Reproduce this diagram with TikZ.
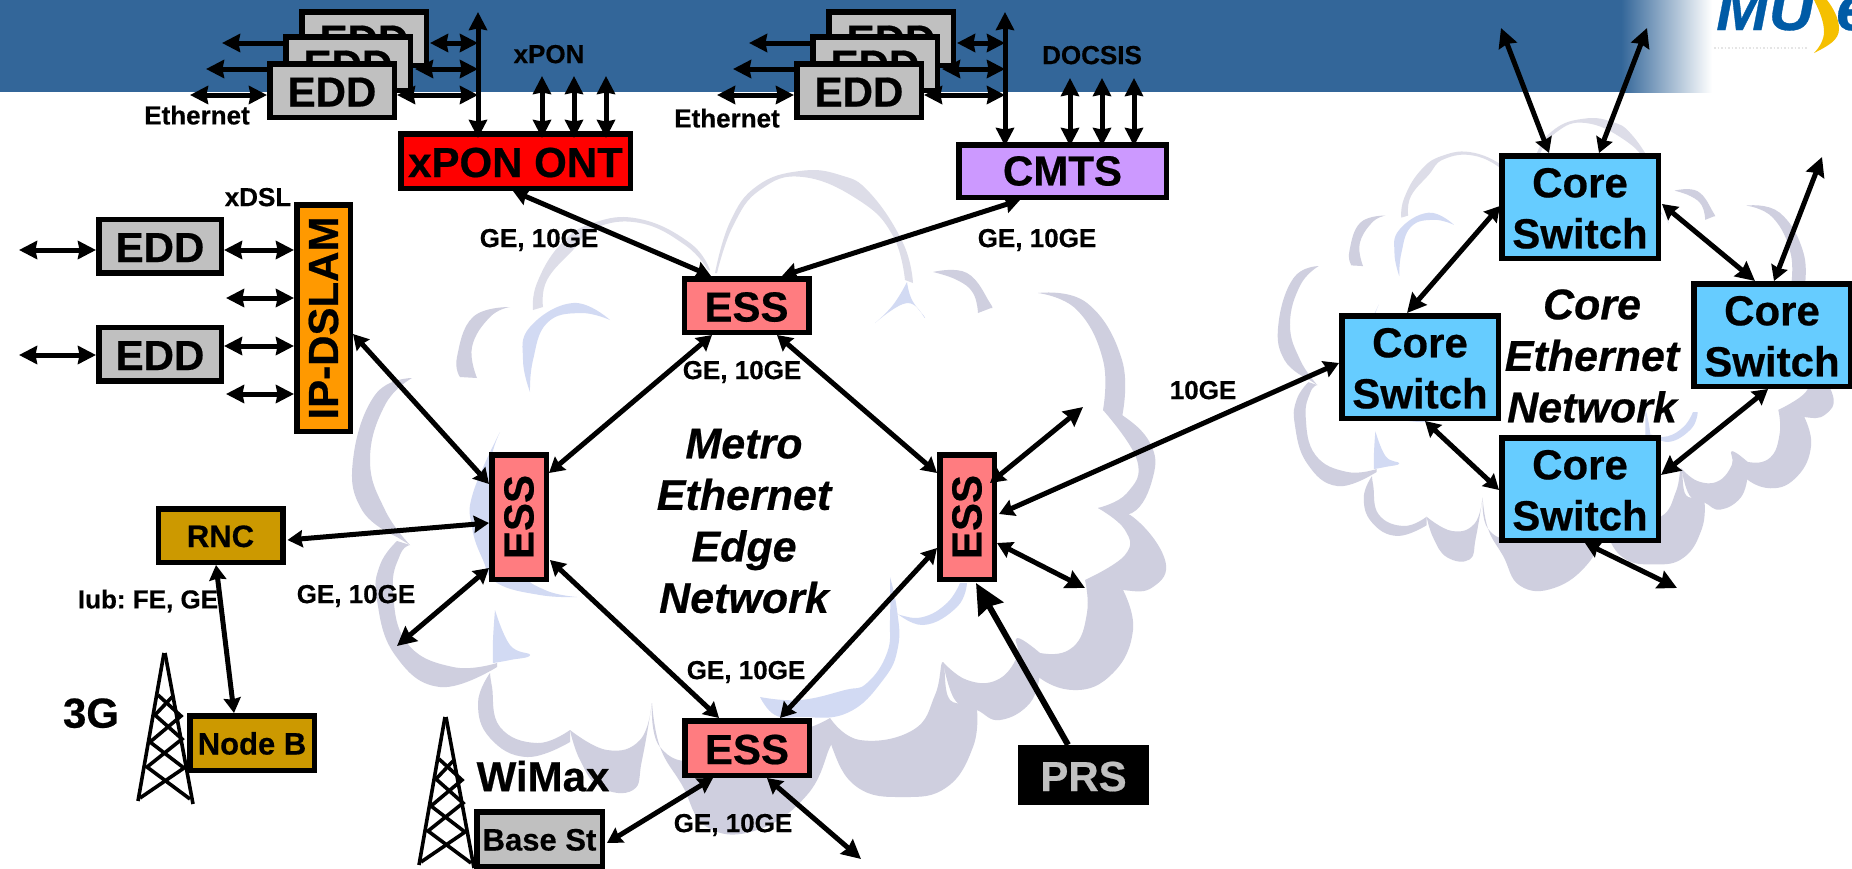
\documentclass[tikz,border=0pt]{standalone}
\usepackage{fontspec}
\setmainfont{Liberation Sans}[BoldFeatures={FakeBold=0.5},BoldItalicFeatures={FakeBold=0.5}]
\usetikzlibrary{arrows.meta}
\definecolor{banner}{HTML}{336699}
\definecolor{cg}{HTML}{CFCFDF}
\definecolor{cgl}{HTML}{DDDDE8}
\definecolor{cb}{HTML}{D2DAF3}
\definecolor{essc}{HTML}{FF7C80}
\definecolor{eddc}{HTML}{C0C0C0}
\definecolor{rncc}{HTML}{CC9900}
\definecolor{corec}{HTML}{66CCFF}
\definecolor{cmtsc}{HTML}{CC99FF}
\definecolor{ipc}{HTML}{FF9900}
\definecolor{logob}{HTML}{005BA6}
\definecolor{logoy}{HTML}{F5C000}
\newcommand{\cresc}[3]{\fill[#1] plot[smooth,tension=.75] coordinates {#2} -- plot[smooth,tension=.75] coordinates {#3} -- cycle;}
\newcommand{\cloudart}{%
\cresc{cg}{(412,378)(375,395)(353,460)(362,510)(397,537)}{(410,545)(385,510)(370,460)(385,405)(412,378)}
\cresc{cg}{(397,541)(380,565)(377,600)(395,655)(440,687)(497,667)}{(497,663)(453,667)(407,643)(393,590)(400,555)(410,545)}
\cresc{cg}{(490,673)(478,703)(490,738)(527,757)(570,742)}{(570,730)(537,743)(500,727)(492,687)(490,673)}
\cresc{cg}{(570,730)(580,760)(600,787)(633,790)(642,760)(652,703)}{(652,703)(640,740)(607,750)(570,730)}
\cresc{cg}{(652,703)(660,747)(682,785)(707,827)(757,830)(807,795)(830,747)(832,745)}{(830,718)(800,730)(760,730)(700,760)(660,747)(652,703)}
\cresc{cg}{(830,718)(832,747)(857,787)(903,797)(947,787)(973,747)(977,710)}{(977,700)(950,700)(943,662)(935,695)(913,730)(860,740)(830,718)}
\cresc{cg}{(943,662)(955,700)(977,710)(1000,720)(1030,703)(1040,673)}{(1040,653)(1017,638)(1017,657)(997,680)(967,680)(943,662)}
\cresc{cg}{(1017,638)(1030,670)(1073,690)(1113,673)(1133,630)(1123,590)}{(1085,580)(1087,613)(1073,647)(1040,653)(1017,638)}
\cresc{cg}{(1085,580)(1123,590)(1153,587)(1165,560)(1133,517)(1098,508)}{(1098,508)(1125,530)(1125,555)(1085,580)}
\cresc{cg}{(1098,508)(1132,513)(1153,477)(1150,443)(1122,415)(1103,410)}{(1103,410)(1137,460)(1127,493)(1098,508)}
\cresc{cg}{(1038,293)(1087,303)(1122,360)(1122,417)}{(1103,410)(1103,360)(1077,310)(1038,293)}
\cresc{cg}{(933,272)(967,273)(990,303)(991,308)}{(978,313)(973,293)(957,280)(933,272)}
\cresc{cb}{(875,323)(893,305)(907,282)}{(907,282)(912,300)(925,318)(907,303)(875,323)}
\cresc{cgl}{(715,273)(730,222)(757,186)(800,171)(840,175)(870,193)(903,243)(913,283)}{(905,280)(893,236)(860,201)(803,177)(760,190)(733,226)(717,273)}
\cresc{cgl}{(533,310)(537,283)(560,245)(593,223)(640,219)(690,243)(710,270)}{(708,270)(685,245)(640,223)(595,228)(573,250)(547,280)(543,307)}
\cresc{cg}{(510,307)(473,317)(457,357)(460,377)}{(477,378)(472,347)(490,317)(510,307)}
\cresc{cb}{(610,320)(573,303)(530,327)(523,360)(530,392)}{(530,392)(533,360)(547,323)(580,313)(610,320)}
\cresc{cb}{(500,432)(473,493)(472,527)(483,560)(497,583)(540,595)(577,597)}{(577,597)(545,590)(520,570)(500,520)(490,470)(500,432)}
\cresc{cb}{(495,610)(493,640)(493,663)}{(493,663)(510,660)(530,655)(510,645)(495,610)}
\cresc{cb}{(890,577)(897,610)(898,647)(883,680)(847,713)(800,717)(775,715)(760,697)}{(760,697)(800,700)(845,690)(867,683)(887,653)(890,620)(890,577)}
\cresc{cb}{(893,610)(923,625)(957,607)(967,583)}{(960,583)(947,603)(923,617)(900,615)(893,610)}
}
\newcommand{\towerart}{%
\draw[towerline] (164,653) -- (138,801);
\draw[towerline] (165,653) -- (193,804);
\draw[towerline] (158,695) -- (181,716) -- (150,742) -- (184,768) -- (140,798);
\draw[towerline] (172,697) -- (155,715) -- (182,739) -- (147,767) -- (190,799);
}
\newcommand{\corelabel}{\rule{0pt}{32pt}Core\\Switch}
\tikzset{
 towerline/.style={line width=3.6pt},
 box/.style={draw=black,line width=5.5pt,inner sep=0pt,align=center,font=\bfseries\fontsize{42}{51}\selectfont},
 small/.style={minimum width=124.5pt,minimum height=53.5pt,text height=32pt,text depth=0pt},
 tall/.style={minimum width=54.5pt,minimum height=124.5pt},
 corebox/.style={box,fill=corec,minimum width=156.5pt,minimum height=102.5pt},
 essbox/.style={box,fill=essc},
 eddbox/.style={box,small,fill=eddc},
 lab/.style={inner sep=0pt,text depth=0pt,font=\frenchspacing\bfseries\fontsize{26}{30}\selectfont},
 biglab/.style={inner sep=0pt,text depth=0pt,font=\bfseries\fontsize{42}{50}\selectfont},
 nettext/.style={inner sep=0pt,align=center,font=\bfseries\itshape\fontsize{43}{51.5}\selectfont},
 linkss/.style={line width=5pt,{Stealth[length=15pt,width=17pt,inset=1.5pt]}-{Stealth[length=15pt,width=17pt,inset=1.5pt]}},
 linksb/.style={line width=5pt,{Stealth[length=15pt,width=17pt,inset=1.5pt]}-{Stealth[length=19pt,width=19pt,inset=2pt]}},
 linkbb/.style={line width=5pt,{Stealth[length=18pt,width=18pt,inset=1.5pt]}-{Stealth[length=18pt,width=18pt,inset=1.5pt]}},
 stub/.style={line width=5pt,-{Stealth[length=18pt,width=18pt,inset=1.5pt]}},
 prslink/.style={line width=6pt,-{Stealth[length=30pt,width=28pt,inset=3pt]}},
}
\begin{document}
\begin{tikzpicture}[x=1pt,y=-1pt]
\useasboundingbox (0,0) rectangle (1852,868);
\clip (0,0) rectangle (1852,868);
\fill[white] (0,0) rectangle (1852,868);
% banner
\fill[banner] (0,0) rectangle (1622,92);
\shade[left color=banner,right color=white] (1621,0) rectangle (1712,92);
% logo
\node[anchor=base west,inner sep=0pt,text=logob,font=\bfseries\itshape\fontsize{63}{63}\selectfont] (logom) at (1716,30) {MU};
\node[anchor=base west,inner sep=0pt,text=logob,font=\bfseries\itshape\fontsize{63}{63}\selectfont] (logoe) at (1836,30) {e};
\fill[logoy] (1814,0) .. controls (1820,12) and (1824,22) .. (1824,32) .. controls (1824,40) and (1819,48) .. (1814,53) .. controls (1828,46) and (1839,40) .. (1839,29) .. controls (1839,18) and (1833,8) .. (1827,0) -- cycle;
\draw[line width=1.5pt,dotted,black!10] (1714,48) -- (1808,48);
% clouds
\cloudart
\begin{scope}[shift={(1277,118)},xscale=.683,yscale=.712,shift={(-351,-170)}]
\cloudart
\end{scope}
% towers
\towerart
\begin{scope}[shift={(281,64)}]
\towerart
\end{scope}
% boxes
\node[eddbox] (edd1) at (364,38.5) {EDD};
\node[eddbox] (edd2) at (348,63.5) {EDD};
\node[eddbox] (edd3) at (332,90.5) {EDD};
\node[eddbox] (edd4) at (891,38.5) {EDD};
\node[eddbox] (edd5) at (875,63.5) {EDD};
\node[eddbox] (edd6) at (859,90.5) {EDD};
\node[box,fill=red,minimum width=229.5pt,minimum height=54.5pt,text height=32pt,text depth=0pt] (xpon) at (515.5,161) {xPON ONT};
\node[box,fill=cmtsc,minimum width=207.5pt,minimum height=52.5pt] (cmts) at (1062.5,171) {CMTS};
\node[eddbox,minimum width=122.5pt] (edda) at (160,246) {EDD};
\node[eddbox,minimum width=122.5pt] (eddb) at (160,354) {EDD};
\node[box,fill=ipc,minimum width=53.5pt,minimum height=226.5pt] (ipd) at (323.5,318) {\rotatebox{90}{IP-DSLAM}};
\node[essbox,small] (esst) at (746.5,305.5) {ESS};
\node[essbox,tall] (essl) at (519,517) {\rotatebox{90}{ESS}};
\node[essbox,tall] (essr) at (967,517) {\rotatebox{90}{ESS}};
\node[essbox,small,minimum height=54.5pt] (essb) at (747,748) {ESS};
\node[box,small,fill=rncc,font=\bfseries\fontsize{31}{36}\selectfont,text height=23pt] (rnc) at (220.5,535.5) {RNC};
\node[box,small,fill=rncc,minimum height=54.5pt,font=\bfseries\fontsize{31}{36}\selectfont,text height=23pt] (nodeb) at (252,743) {Node B};
\node[box,small,fill=eddc,minimum width=125.5pt,minimum height=54.5pt,font=\bfseries\fontsize{31}{36}\selectfont,text height=23pt] (baset) at (539.5,839) {Base St};
\node[fill=black,text=eddc,inner sep=0pt,text height=32pt,text depth=0pt,font=\bfseries\fontsize{42}{50}\selectfont,minimum width=131pt,minimum height=60pt] (prs) at (1083.5,775) {PRS};
\node[corebox] (coret) at (1580,207) {\corelabel};
\node[corebox] (corel) at (1420,367) {\corelabel};
\node[corebox] (corer) at (1772,335) {\corelabel};
\node[corebox] (coreb) at (1580,489) {\corelabel};
% labels
\node[lab] (e1) at (197,115) {Ethernet};
\node[lab] (e2) at (727,118) {Ethernet};
\node[lab] (l1) at (549,54) {xPON};
\node[lab] (l2) at (1092,55) {DOCSIS};
\node[lab] (l3) at (258,197) {xDSL};
\node[lab] (g1) at (539,238) {GE, 10GE};
\node[lab] (g2) at (1037,238) {GE, 10GE};
\node[lab] (g3) at (742,370) {GE, 10GE};
\node[lab] (g4) at (356,594) {GE, 10GE};
\node[lab] (g5) at (746,670) {GE, 10GE};
\node[lab] (g6) at (733,823) {GE, 10GE};
\node[lab] (g7) at (1203,390) {10GE};
\node[lab] (iub) at (148,599) {Iub: FE, GE};
\node[biglab] (g3lab) at (91,713) {3G};
\node[biglab] (wimax) at (543,776) {WiMax};
\node[nettext] (metro) at (744,521) {Metro\\Ethernet\\Edge\\Network};
\node[nettext] (corenet) at (1592,356) {Core\\Ethernet\\Network};
% free ends
\foreach \n/\x/\y in {a1/190/95,a2/206/69,a3/222/43,t1/478/95,t2/478/69,t3/478/43,top1/478/12,
 b1/717/95,b2/733/69,b3/749/43,u1/1005/95,u2/1005/69,u3/1005/43,top2/1005/12,
 pon1/542/76,pon2/574/76,pon3/606/76,doc1/1070/78,doc2/1102/78,doc3/1134/78,
 d1/19/250,d2/19/355,d3/226/298,d4/226/394,
 f1/397/646,f2/1083/407,f3/1085/588,f4/861/859,
 c1/1501/28,c2/1647/28,c3/1822/157,c4/1677/588}
 {\coordinate (\n) at (\x,\y);}
% EDD clusters
\draw[stub] ([yshift=21.5pt]edd3.west) -- (a2);
\draw[stub] ([yshift=20.5pt]edd2.west) -- (a3);
\draw[linkbb] ([yshift=-4.5pt]edd3.west) -- (a1);
\draw[linkbb] ([yshift=-4.5pt]edd3.east) -- (t1);
\draw[linkbb] ([xshift=2pt,yshift=-5.5pt]edd2.east) -- (t2);
\draw[linkbb] ([xshift=1pt,yshift=-4.5pt]edd1.east) -- (t3);
\draw[linkbb] ([xshift=-37.5pt,yshift=-7pt]xpon.north) -- (top1);
\draw[stub] ([yshift=21.5pt]edd6.west) -- (b2);
\draw[stub] ([yshift=20.5pt]edd5.west) -- (b3);
\draw[linkbb] ([yshift=-4.5pt]edd6.west) -- (b1);
\draw[linkbb] ([yshift=-4.5pt]edd6.east) -- (u1);
\draw[linkbb] ([xshift=2pt,yshift=-5.5pt]edd5.east) -- (u2);
\draw[linkbb] ([xshift=1pt,yshift=-4.5pt]edd4.east) -- (u3);
\draw[linkbb] ([xshift=-57.5pt,yshift=-4pt]cmts.north) -- (top2);
\draw[linkbb] ([xshift=26.5pt,yshift=-7pt]xpon.north) -- (pon1);
\draw[linkbb] ([xshift=58.5pt,yshift=-7pt]xpon.north) -- (pon2);
\draw[linkbb] ([xshift=90.5pt,yshift=-7pt]xpon.north) -- (pon3);
\draw[linkbb] ([xshift=7.5pt,yshift=-4pt]cmts.north) -- (doc1);
\draw[linkbb] ([xshift=39.5pt,yshift=-4pt]cmts.north) -- (doc2);
\draw[linkbb] ([xshift=71.5pt,yshift=-4pt]cmts.north) -- (doc3);
% DSLAM side
\draw[linkbb] ([yshift=-4pt]edda.west) -- (d1);
\draw[linkbb] ([yshift=-1pt]eddb.west) -- (d2);
\draw[linkbb] ([yshift=-4pt]edda.east) -- ([yshift=68pt]ipd.west);
\draw[linkbb] (d3) -- ([yshift=20pt]ipd.west);
\draw[linkbb] ([yshift=8pt]eddb.east) -- ([yshift=-28pt]ipd.west);
\draw[linkbb] (d4) -- ([yshift=-76pt]ipd.west);
% metro ring
\draw[linkss] ([xshift=-2.5pt]xpon.south) -- ([xshift=-35.5pt]esst.north);
\draw[linkss] ([xshift=-42.5pt]cmts.south) -- ([xshift=35.5pt]esst.north);
\draw[linkss] ([xshift=-34.5pt]esst.south) -- ([yshift=-21pt]essl.north east);
\draw[linkss] ([xshift=30.5pt]esst.south) -- ([yshift=-21pt]essr.north west);
\draw[linkss] ([yshift=-16pt]ipd.east) -- ([yshift=33pt]essl.west);
\draw[linkss] ([xshift=2pt,yshift=-4.5pt]rnc.east) -- ([yshift=-6pt]essl.west);
\draw[linkss] ([xshift=-4.5pt]rnc.south) -- ([xshift=-18pt]nodeb.north);
\draw[linksb] ([yshift=-51pt]essl.west) -- (f1);
\draw[linkss] ([xshift=1pt,yshift=-43pt]essl.east) -- ([xshift=-28pt]essb.north);
\draw[linkss] ([yshift=-31pt]essr.west) -- ([xshift=33pt]essb.north);
\draw[linkss] ([xshift=-34pt]essb.south) -- ([xshift=2pt,yshift=-4pt]baset.east);
\draw[linksb] ([xshift=20pt]essb.south) -- (f4);
\draw[linksb] ([xshift=-7pt,yshift=34pt]essr.east) -- (f2);
\draw[linkss] ([xshift=2pt,yshift=3pt]essr.east) -- ([yshift=4pt]corel.west);
\draw[linksb] ([yshift=-26pt]essr.east) -- (f3);
\draw[prslink] ([xshift=-15.5pt]prs.north) -- ([xshift=9pt,yshift=-1pt]essr.south);
% core
\draw[linksb] ([xshift=-31pt]coret.north) -- (c1);
\draw[linksb] ([xshift=19pt]coret.north) -- (c2);
\draw[linksb] ([xshift=2pt]corer.north) -- (c3);
\draw[linksb] ([xshift=1pt,yshift=1pt]coret.west) -- ([xshift=-13pt]corel.north);
\draw[linksb] ([xshift=1pt,yshift=3pt]coret.east) -- ([xshift=-17pt]corer.north);
\draw[linkss] ([xshift=5pt]corel.south) -- ([yshift=-1pt]coreb.west);
\draw[linksb] ([xshift=-4pt]corer.south) -- ([yshift=14pt]coreb.east);
\draw[linksb] ([xshift=5pt]coreb.south) -- (c4);
\end{tikzpicture}
\end{document}
